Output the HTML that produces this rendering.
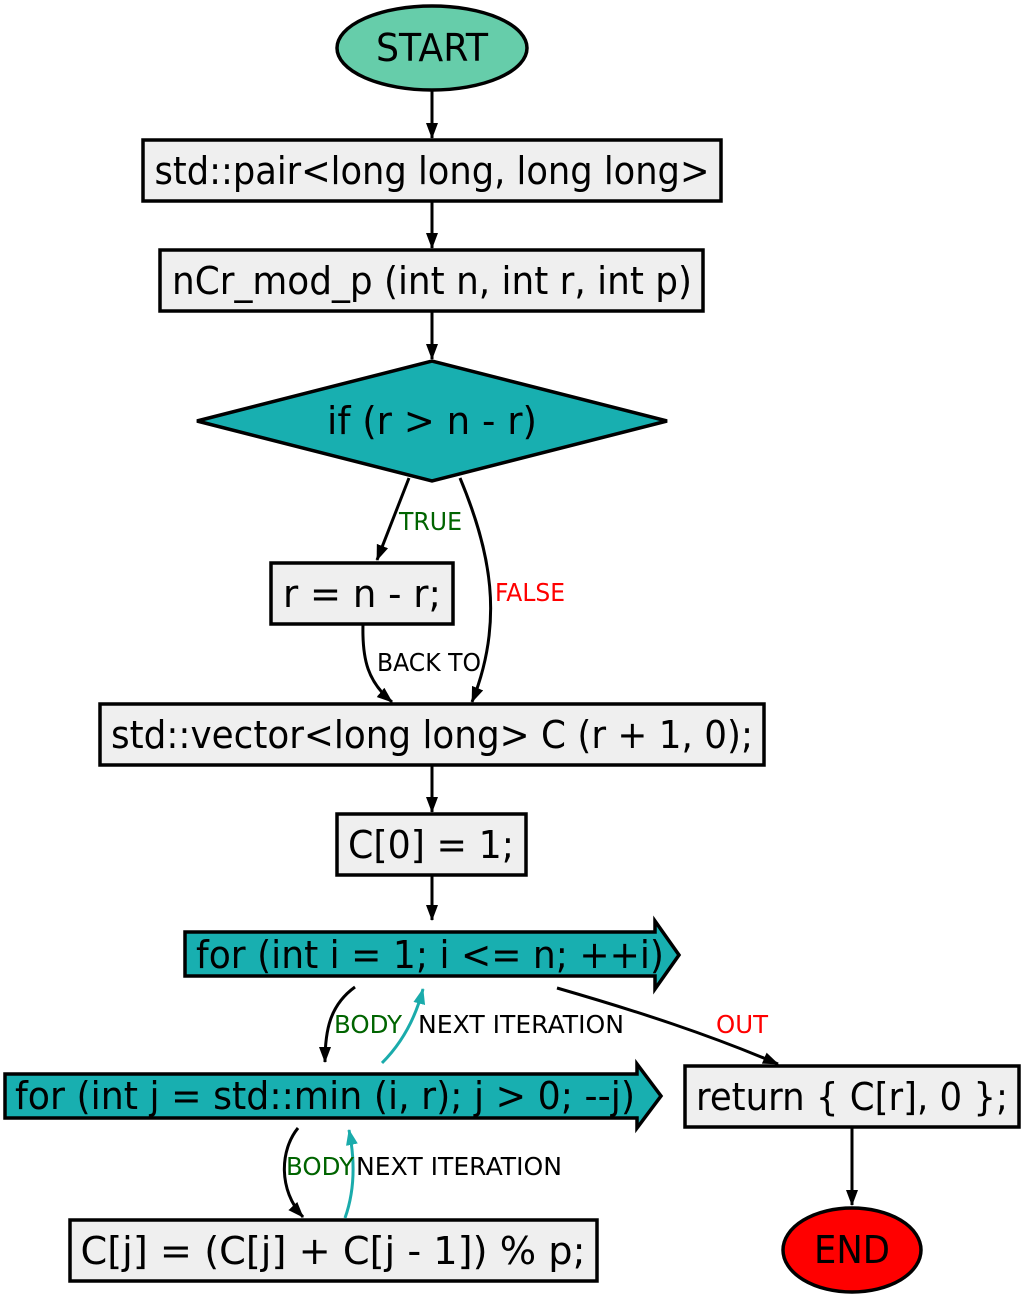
<!DOCTYPE html>
<html><head><meta charset="utf-8"><style>html,body{margin:0;padding:0;background:#fff}svg{display:block}</style></head><body>
<svg width="1024" height="1299" viewBox="0 0 1024 1299" xmlns="http://www.w3.org/2000/svg" font-family="DejaVu Sans, Liberation Sans, sans-serif">
<defs>
<marker id="ab" markerWidth="16" markerHeight="14" refX="15" refY="7" orient="auto" markerUnits="userSpaceOnUse" viewBox="0 0 16 14"><path d="M0,1 L16,7 L0,13 z" fill="#000"/></marker>
<marker id="at" markerWidth="16" markerHeight="14" refX="15" refY="7" orient="auto" markerUnits="userSpaceOnUse" viewBox="0 0 16 14"><path d="M0,1 L16,7 L0,13 z" fill="#1aabab"/></marker>
</defs>
<g stroke="#000" stroke-width="3.5">
<ellipse cx="432" cy="48" rx="95" ry="42" fill="#66cdaa"/>
<rect x="143" y="140" width="578" height="61" fill="#efefef"/>
<rect x="160" y="250" width="543" height="61" fill="#efefef"/>
<polygon points="197,421 432,361 667,421 432,481" fill="#18afb0"/>
<rect x="271" y="563" width="182" height="61" fill="#efefef"/>
<rect x="100" y="704" width="664" height="61" fill="#efefef"/>
<rect x="337" y="814" width="189" height="61" fill="#efefef"/>
<polygon points="185,932 655,932 655,921 679,955 655,989 655,976 185,976" fill="#18afb0"/>
<polygon points="5,1074 637,1074 637,1064 661,1096 637,1128 637,1118 5,1118" fill="#18afb0"/>
<rect x="685" y="1066" width="334" height="61" fill="#efefef"/>
<rect x="70" y="1220" width="527" height="61" fill="#efefef"/>
<ellipse cx="852" cy="1250" rx="69" ry="42" fill="#ff0000"/>
</g>
<g stroke="#000" stroke-width="3" fill="none" marker-end="url(#ab)">
<line x1="432" y1="90" x2="432" y2="138"/>
<line x1="432" y1="201" x2="432" y2="248"/>
<line x1="432" y1="311" x2="432" y2="359"/>
<line x1="409" y1="478" x2="377" y2="560"/>
<path d="M460,478 C490,550 505,620 472,702"/>
<path d="M363,624 C362,660 368,682 392,702"/>
<line x1="432" y1="765" x2="432" y2="812"/>
<line x1="432" y1="875" x2="432" y2="920"/>
<path d="M355,987 C330,1005 325,1030 325,1062"/>
<path d="M557,988 C640,1012 710,1035 778,1064"/>
<path d="M298,1128 C280,1150 278,1190 303,1217"/>
<line x1="852" y1="1127" x2="852" y2="1205"/>
</g>
<g stroke="#1aabab" stroke-width="3" fill="none" marker-end="url(#at)">
<path d="M382,1063 C400,1045 415,1020 423,989"/>
<path d="M345,1218 C355,1190 355,1160 349,1130"/>
</g>
<g font-size="38" text-anchor="middle" fill="#000">
<text x="432" y="61" textLength="112" lengthAdjust="spacingAndGlyphs">START</text>
<text x="432" y="184" textLength="555" lengthAdjust="spacingAndGlyphs">std::pair&lt;long long, long long&gt;</text>
<text x="432" y="294" textLength="520" lengthAdjust="spacingAndGlyphs">nCr_mod_p (int n, int r, int p)</text>
<text x="432" y="434" textLength="210" lengthAdjust="spacingAndGlyphs">if (r &gt; n - r)</text>
<text x="362" y="607" textLength="158" lengthAdjust="spacingAndGlyphs">r = n - r;</text>
<text x="432" y="748" textLength="642" lengthAdjust="spacingAndGlyphs">std::vector&lt;long long&gt; C (r + 1, 0);</text>
<text x="431" y="858" textLength="166" lengthAdjust="spacingAndGlyphs">C[0] = 1;</text>
<text x="430" y="968" textLength="468" lengthAdjust="spacingAndGlyphs">for (int i = 1; i &lt;= n; ++i)</text>
<text x="325" y="1109" textLength="620" lengthAdjust="spacingAndGlyphs">for (int j = std::min (i, r); j &gt; 0; --j)</text>
<text x="852" y="1110" textLength="312" lengthAdjust="spacingAndGlyphs">return { C[r], 0 };</text>
<text x="333" y="1264" textLength="505" lengthAdjust="spacingAndGlyphs">C[j] = (C[j] + C[j - 1]) % p;</text>
<text x="852" y="1263" textLength="76" lengthAdjust="spacingAndGlyphs">END</text>
</g>
<g font-size="25">
<text x="399" y="530" fill="#006400" textLength="63" lengthAdjust="spacingAndGlyphs">TRUE</text>
<text x="495" y="601" fill="#ff0000" textLength="70" lengthAdjust="spacingAndGlyphs">FALSE</text>
<text x="377" y="671" fill="#000" textLength="104" lengthAdjust="spacingAndGlyphs">BACK TO</text>
<text x="334" y="1033" fill="#006400" textLength="68" lengthAdjust="spacingAndGlyphs">BODY</text>
<text x="418" y="1033" fill="#000" textLength="206" lengthAdjust="spacingAndGlyphs">NEXT ITERATION</text>
<text x="716" y="1033" fill="#ff0000" textLength="52" lengthAdjust="spacingAndGlyphs">OUT</text>
<text x="286" y="1175" fill="#006400" textLength="68" lengthAdjust="spacingAndGlyphs">BODY</text>
<text x="356" y="1175" fill="#000" textLength="206" lengthAdjust="spacingAndGlyphs">NEXT ITERATION</text>
</g>
</svg>
</body></html>
